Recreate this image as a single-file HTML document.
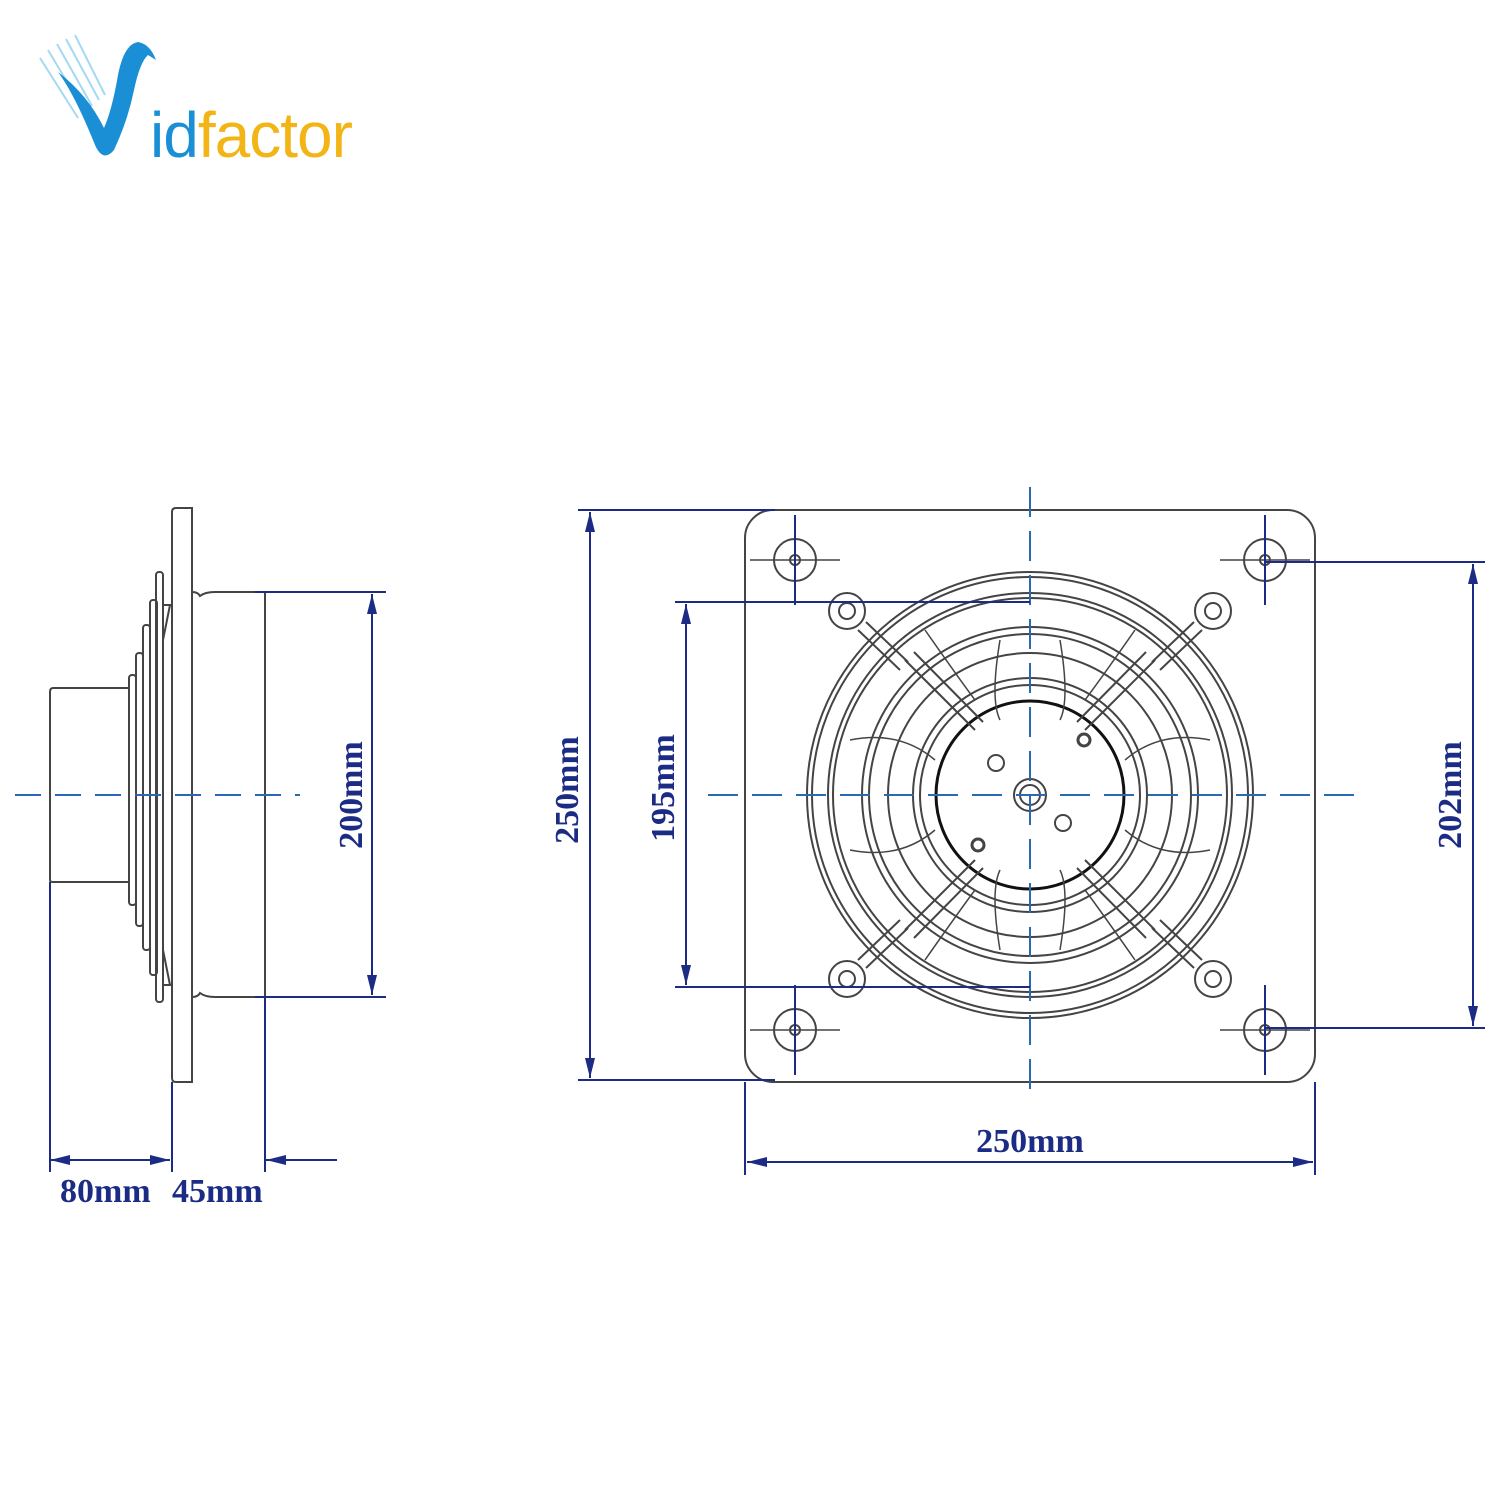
<!DOCTYPE html>
<html><head><meta charset="utf-8"><style>
html,body{margin:0;padding:0;background:#fff;width:1500px;height:1500px;overflow:hidden}
svg{display:block}
.t{font-family:"Liberation Serif",serif;font-weight:bold;font-size:34px;fill:#1c2c84}
</style></head><body>
<svg width="1500" height="1500" viewBox="0 0 1500 1500" xmlns="http://www.w3.org/2000/svg">
<defs>
<marker id="a" viewBox="0 0 20 10" refX="20" refY="5" markerWidth="20" markerHeight="10" markerUnits="userSpaceOnUse" orient="auto-start-reverse"><path d="M0,0L20,5L0,10z" fill="#1c2c84"/></marker>
</defs>
<!-- Logo -->
<g>
<g stroke="#8fd0f0" stroke-width="2" opacity="0.8">
<line x1="40" y1="58" x2="78" y2="118"/><line x1="48" y1="50" x2="85" y2="112"/><line x1="57" y1="44" x2="92" y2="106"/><line x1="66" y1="39" x2="99" y2="100"/><line x1="75" y1="35" x2="105" y2="95"/>
</g>
<path d="M58,72 Q75,95 95,145 Q103,163 114,150 Q128,120 134,90 Q140,62 148,55 L156,60 Q150,44 138,42 Q124,44 118,75 Q112,110 104,128 Q88,95 58,72z" fill="#1b8fd6"/>
<text x="150" y="157" font-family="Liberation Sans,sans-serif" font-size="64" letter-spacing="-1"><tspan fill="#1b8fd6">id</tspan><tspan fill="#f3b516">factor</tspan></text>
</g>

<!-- LEFT VIEW -->
<g fill="none" stroke="#444" stroke-width="2">
<path d="M176,508 H192 V1082 H176 Q172,1082 172,1078 V512 Q172,508 176,508z"/>
<path d="M192,592 Q198,592 200,596 Q205,592 215,592 H265 V997 H215 Q205,997 200,993 Q198,997 192,997"/>
<path d="M130,688 H53 Q50,688 50,692 V880 Q50,882 53,882 H130"/>
<rect x="129" y="675" width="7" height="230" rx="3"/>
<rect x="136" y="653" width="7" height="273" rx="3"/>
<rect x="143" y="625" width="7" height="325" rx="3"/>
<rect x="150" y="600" width="7" height="375" rx="3"/>
<rect x="156" y="572" width="7" height="430" rx="3"/>
<line x1="163" y1="605" x2="172" y2="605"/><line x1="163" y1="985" x2="172" y2="985"/>
<path d="M163,640 L170,605 M163,950 L170,985"/>
</g>
<line x1="15" y1="795" x2="300" y2="795" stroke="#2a6ab0" stroke-width="2" stroke-dasharray="26,14"/>
<g stroke="#1c2c84" stroke-width="2" fill="none">
<line x1="255" y1="592" x2="386" y2="592"/><line x1="255" y1="997" x2="386" y2="997"/>
<line x1="372" y1="594" x2="372" y2="995" marker-start="url(#a)" marker-end="url(#a)"/>
<line x1="50" y1="882" x2="50" y2="1172"/><line x1="172" y1="1082" x2="172" y2="1172"/><line x1="265" y1="997" x2="265" y2="1172"/>
<line x1="50" y1="1160" x2="170" y2="1160" marker-start="url(#a)" marker-end="url(#a)"/>
<line x1="337" y1="1160" x2="266" y2="1160" marker-end="url(#a)"/>
</g>
<text class="t" transform="translate(362,795) rotate(-90)" text-anchor="middle">200mm</text>
<text class="t" x="60" y="1202">80mm</text>
<text class="t" x="172" y="1202">45mm</text>

<!-- RIGHT VIEW -->
<g fill="none" stroke="#444" stroke-width="2">
<rect x="745" y="510" width="570" height="572" rx="28"/>
<circle cx="1030" cy="795" r="223"/><circle cx="1030" cy="795" r="218"/>
<circle cx="1030" cy="795" r="202"/><circle cx="1030" cy="795" r="197"/>
<circle cx="1030" cy="795" r="168"/><circle cx="1030" cy="795" r="161"/>
<circle cx="1030" cy="795" r="142"/>
<circle cx="1030" cy="795" r="117"/><circle cx="1030" cy="795" r="110"/>
<circle cx="1030" cy="795" r="94" stroke="#111" stroke-width="3"/>
<circle cx="1030" cy="795" r="16"/><circle cx="1030" cy="795" r="10"/>
<circle cx="1084" cy="740" r="6" stroke-width="3"/><circle cx="978" cy="845" r="6" stroke-width="3"/>
<circle cx="996" cy="763" r="8"/><circle cx="1063" cy="823" r="8"/>
<g stroke-width="1.5">
<path d="M1000,640 Q990,700 1000,720 M1060,640 Q1070,700 1060,720 M1000,950 Q990,890 1000,870 M1060,950 Q1070,890 1060,870"/>
<path d="M850,740 Q900,730 935,760 M850,850 Q900,860 935,830 M1210,740 Q1160,730 1125,760 M1210,850 Q1160,860 1125,830"/>
<path d="M925,630 Q960,680 975,700 M1135,630 Q1100,680 1085,700 M925,960 Q960,910 975,890 M1135,960 Q1100,910 1085,890"/>
</g>
<g id="ear">
<circle cx="847" cy="611" r="18"/><circle cx="847" cy="611" r="8"/>
<line x1="858" y1="630" x2="900" y2="670"/><line x1="866" y1="622" x2="908" y2="662"/>
<line x1="905" y1="660" x2="975" y2="730"/><line x1="914" y1="652" x2="983" y2="722"/>
</g>
<use href="#ear" transform="translate(2060,0) scale(-1,1)"/>
<use href="#ear" transform="translate(0,1590) scale(1,-1)"/>
<use href="#ear" transform="translate(2060,1590) scale(-1,-1)"/>
<g id="hole"><circle cx="795" cy="560" r="21"/><circle cx="795" cy="560" r="5"/></g>
<use href="#hole" transform="translate(470,0)"/>
<use href="#hole" transform="translate(0,470)"/>
<use href="#hole" transform="translate(470,470)"/>
<g stroke-width="1.5">
<line x1="750" y1="560" x2="840" y2="560"/><line x1="1220" y1="560" x2="1310" y2="560"/>
<line x1="750" y1="1030" x2="840" y2="1030"/><line x1="1220" y1="1030" x2="1310" y2="1030"/>
</g>
</g>
<g stroke="#1c2c84" stroke-width="2" fill="none">
<line x1="795" y1="515" x2="795" y2="605"/><line x1="1265" y1="515" x2="1265" y2="605"/>
<line x1="795" y1="985" x2="795" y2="1075"/><line x1="1265" y1="985" x2="1265" y2="1075"/>
<line x1="1030" y1="487" x2="1030" y2="1100" stroke="#2a6ab0" stroke-dasharray="30,14"/>
<line x1="708" y1="795" x2="1355" y2="795" stroke="#2a6ab0" stroke-dasharray="30,14"/>
<line x1="578" y1="510" x2="775" y2="510"/><line x1="578" y1="1080" x2="775" y2="1080"/>
<line x1="590" y1="512" x2="590" y2="1078" marker-start="url(#a)" marker-end="url(#a)"/>
<line x1="675" y1="602" x2="1030" y2="602"/><line x1="675" y1="987" x2="1030" y2="987"/>
<line x1="686" y1="604" x2="686" y2="985" marker-start="url(#a)" marker-end="url(#a)"/>
<line x1="1265" y1="562" x2="1485" y2="562"/><line x1="1265" y1="1028" x2="1485" y2="1028"/>
<line x1="1473" y1="564" x2="1473" y2="1026" marker-start="url(#a)" marker-end="url(#a)"/>
<line x1="745" y1="1082" x2="745" y2="1175"/><line x1="1315" y1="1082" x2="1315" y2="1175"/>
<line x1="747" y1="1162" x2="1313" y2="1162" marker-start="url(#a)" marker-end="url(#a)"/>
</g>
<text class="t" transform="translate(578,790) rotate(-90)" text-anchor="middle">250mm</text>
<text class="t" transform="translate(674,788) rotate(-90)" text-anchor="middle">195mm</text>
<text class="t" transform="translate(1461,795) rotate(-90)" text-anchor="middle">202mm</text>
<text class="t" x="1030" y="1152" text-anchor="middle">250mm</text>
</svg>
</body></html>
